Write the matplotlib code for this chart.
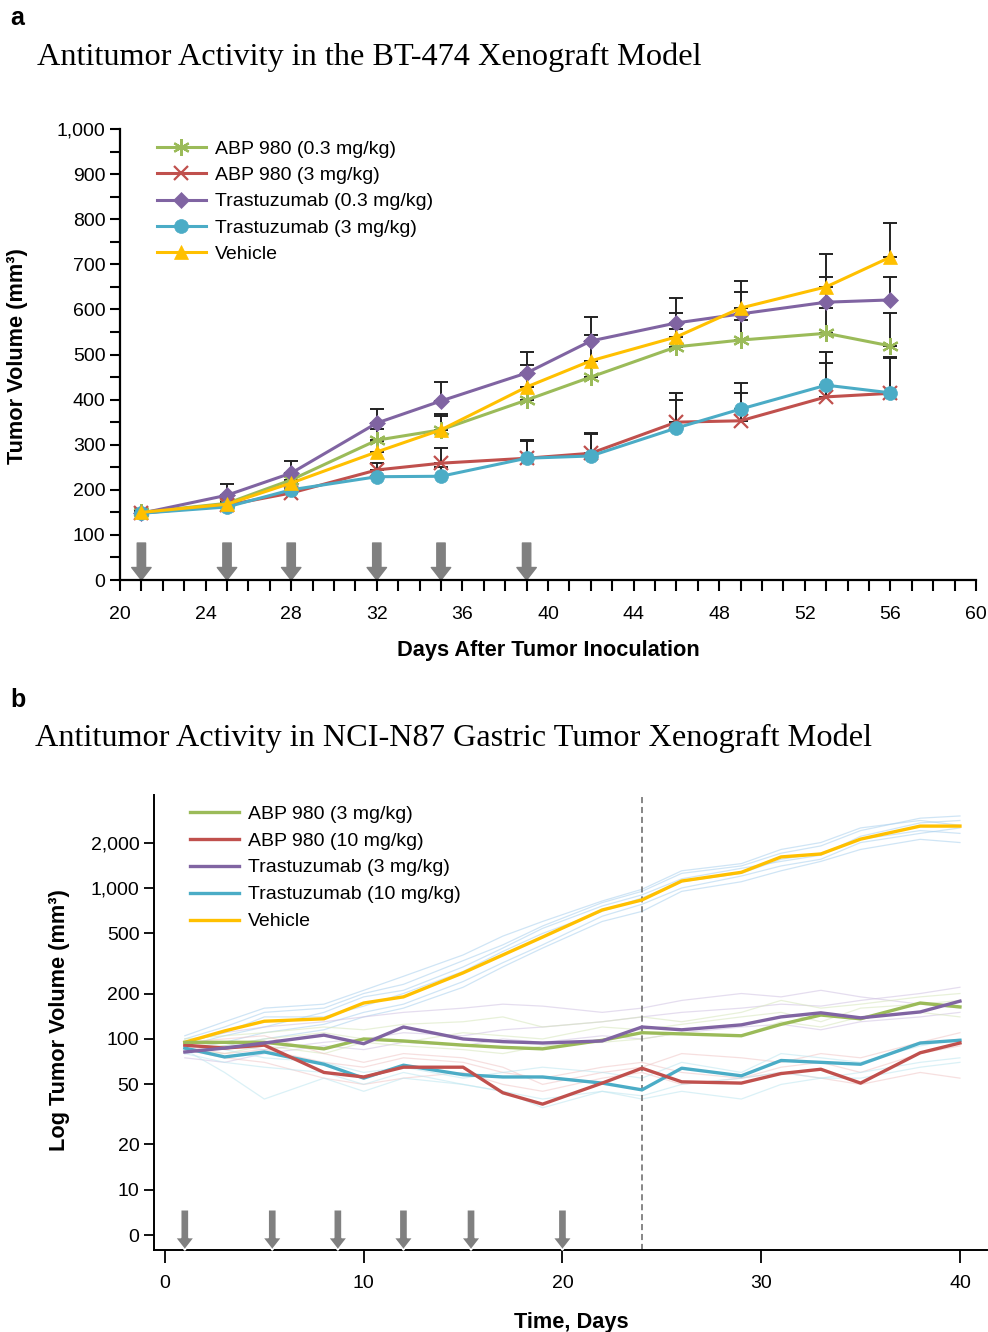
import matplotlib
matplotlib.use("Agg")
import matplotlib.pyplot as plt
from matplotlib.ticker import MultipleLocator, FuncFormatter, NullLocator
from matplotlib.patches import FancyArrowPatch

plt.rcParams['font.family'] = ['Liberation Sans', 'DejaVu Sans']

# ---------------- panel a data ----------------
days_a = [21, 25, 28, 32, 35, 39, 42, 46, 49, 53, 56]
abp03 = [150, 170, 222, 310, 333, 399, 450, 517, 532, 547, 519]
abp03_err = [5, 10, 15, 25, 35, 30, 35, 40, 45, 55, 73]
abp3 = [148, 166, 193, 244, 259, 270, 281, 350, 353, 406, 414]
abp3_err = [5, 8, 12, 16, 34, 40, 45, 49, 61, 75, 80]
tras03 = [148, 188, 237, 348, 397, 459, 530, 570, 590, 616, 621]
tras03_err = [5, 25, 27, 31, 42, 47, 53, 55, 73, 56, 51]
tras3 = [148, 162, 200, 229, 230, 270, 275, 337, 379, 432, 415]
tras3_err = [5, 8, 12, 15, 20, 38, 48, 77, 58, 73, 77]
vehicle_a = [150, 168, 215, 284, 333, 428, 486, 539, 603, 650, 716]
vehicle_a_err = [5, 10, 15, 25, 30, 49, 57, 53, 36, 73, 76]
dose_days_a = [21, 25, 28, 32, 35, 39]

# ---------------- panel b data ----------------
days_b = [1, 3, 5, 8, 10, 12, 15, 17, 19, 22, 24, 26, 29, 31, 33, 35, 38, 40]
abp_3 = [95, 95, 95, 86, 100, 97, 91, 88, 86, 98, 110, 108, 105, 125, 144, 136, 173, 163]
abp_10 = [91, 87, 91, 60, 56, 65, 65, 44, 37, 51, 64, 52, 51, 59, 63, 51, 81, 94]
tras_3 = [82, 87, 94, 106, 93, 120, 100, 96, 94, 97, 120, 115, 124, 140, 149, 138, 151, 178]
tras_10 = [87, 76, 82, 68, 55, 67, 58, 56, 56, 51, 46, 64, 57, 72, 70, 68, 94, 98]
vehicle_b = [95, 113, 131, 136, 173, 190, 274, 360, 473, 715, 833, 1112, 1270, 1606, 1680, 2107, 2570, 2570]
dose_days_b = [1, 5.4, 8.7, 12, 15.4, 20]

# individual animals (faint lines)
veh_ind = [
    [100, 120, 150, 160, 200, 230, 330, 420, 560, 800, 950, 1250, 1400, 1700, 1900, 2400, 2900, 3000],
    [90, 105, 120, 150, 190, 210, 300, 400, 540, 760, 900, 1150, 1350, 1500, 1650, 2200, 2700, 2800],
    [85, 95, 110, 125, 150, 170, 240, 320, 420, 650, 780, 1000, 1200, 1400, 1550, 2000, 2300, 2500],
    [105, 130, 160, 170, 210, 260, 360, 480, 600, 820, 980, 1300, 1450, 1800, 2000, 2500, 2800, 2600],
    [95, 110, 140, 140, 165, 200, 280, 380, 500, 700, 860, 1100, 1250, 1550, 1700, 2100, 2400, 2300],
    [80, 90, 100, 115, 140, 160, 220, 300, 400, 600, 700, 950, 1100, 1300, 1500, 1800, 2100, 2000],
]
tras3_ind = [
    [95, 110, 120, 130, 140, 150, 160, 170, 165, 150, 160, 180, 200, 190, 210, 190, 170, 160],
    [80, 90, 85, 95, 100, 110, 105, 115, 120, 130, 140, 150, 160, 170, 165, 180, 200, 220],
    [75, 70, 80, 90, 85, 95, 90, 100, 95, 105, 100, 110, 120, 125, 115, 130, 140, 150],
]
abp3_ind = [
    [100, 105, 110, 120, 115, 125, 130, 140, 120, 130, 140, 130, 150, 180, 160, 170, 190, 200],
    [85, 80, 90, 80, 95, 90, 85, 80, 90, 95, 100, 110, 105, 130, 120, 140, 150, 140],
    [95, 90, 100, 110, 100, 95, 110, 105, 100, 120, 115, 125, 140, 150, 130, 160, 170, 180],
]
abp10_ind = [
    [90, 80, 85, 70, 65, 75, 70, 60, 55, 65, 70, 60, 55, 65, 70, 60, 80, 90],
    [95, 100, 105, 80, 70, 80, 75, 65, 50, 60, 65, 80, 75, 70, 80, 75, 95, 110],
    [85, 75, 70, 55, 50, 55, 60, 50, 45, 55, 60, 50, 55, 60, 55, 50, 60, 55],
]
tras10_ind = [
    [85, 60, 40, 55, 45, 55, 50, 45, 40, 45, 42, 50, 55, 60, 55, 60, 70, 75],
    [90, 85, 75, 70, 60, 65, 55, 60, 65, 60, 55, 70, 60, 80, 75, 70, 90, 100],
    [80, 70, 65, 60, 50, 60, 50, 45, 35, 45, 40, 45, 40, 50, 55, 55, 65, 70],
]

yticks_b = [5, 10, 20, 50, 100, 200, 500, 1000, 2000]
ytick_labels_b = ['0', '10', '20', '50', '100', '200', '500', '1,000', '2,000']

GREEN = '#9bbb59'
RED = '#c0504d'
PURPLE = '#8064a2'
CYAN = '#4bacc6'
YELLOW = '#ffc000'
ARROW = '#808080'

TICK_FS = 14
LABEL_FS = 15.7
LEG_FS = 14
TITLE_FS = 23.2

fig = plt.figure(figsize=(9.88, 13.32), dpi=100)

# ================= panel a =================
ax = fig.add_axes([120 / 988, 1 - 580 / 1332, 856 / 988, 451 / 1332])

series_a = [
    ('ABP 980 (0.3 mg/kg)', abp03, abp03_err, GREEN, (6, 2, 0), 12),
    ('ABP 980 (3 mg/kg)', abp3, abp3_err, RED, 'x', 10),
    ('Trastuzumab (0.3 mg/kg)', tras03, tras03_err, PURPLE, 'D', 8),
    ('Trastuzumab (3 mg/kg)', tras3, tras3_err, CYAN, 'o', 10),
    ('Vehicle', vehicle_a, vehicle_a_err, YELLOW, '^', 10),
]
draw_order = [4, 0, 3, 1, 2]
handles = {}
for i in draw_order:
    lab, vals, err, col, mk, ms = series_a[i]
    ax.errorbar(days_a, vals, yerr=[[0] * len(err), err], fmt='none', ecolor='#222222',
                elinewidth=1.4, capsize=5, capthick=1.4, zorder=2)
    ln, = ax.plot(days_a, vals, color=col, lw=2.2, marker=mk, markersize=ms,
                  markeredgewidth=1.6 if mk in ('x', (6, 2, 0)) else 0.5,
                  markeredgecolor=col, zorder=3 + i * 0.1)
    handles[i] = ln

for d in dose_days_a:
    ax.add_patch(FancyArrowPatch((d, 82), (d, 0), arrowstyle='simple,head_width=1.4,head_length=0.9,tail_width=0.6',
                                 mutation_scale=10, color=ARROW, shrinkA=0, shrinkB=0, zorder=1.5))

ax.set_xlim(20, 60)
ax.set_ylim(0, 1000)
ax.xaxis.set_major_locator(MultipleLocator(4))
ax.xaxis.set_minor_locator(MultipleLocator(1))
ax.yaxis.set_major_locator(MultipleLocator(100))
ax.yaxis.set_minor_locator(MultipleLocator(50))
ax.yaxis.set_major_formatter(FuncFormatter(lambda v, p: f'{int(v):,}'))
ax.tick_params(axis='x', which='both', length=8, width=1.5, direction='out', labelsize=TICK_FS, pad=11)
ax.tick_params(axis='y', which='both', length=7, width=1.5, direction='out', labelsize=TICK_FS)
for s in ['top', 'right']:
    ax.spines[s].set_visible(False)
for s in ['left', 'bottom']:
    ax.spines[s].set_linewidth(1.6)
ax.set_xlabel('Days After Tumor Inoculation', fontsize=LABEL_FS, fontweight='bold')
ax.set_ylabel('Tumor Volume (mm³)', fontsize=LABEL_FS, fontweight='bold')
ax.xaxis.set_label_coords(0.501, -0.133)
ax.yaxis.set_label_coords(-0.1075, 0.497)

ax.legend([handles[i] for i in range(5)], [s[0] for s in series_a],
          loc='upper left', bbox_to_anchor=(157 / 988, 1 - 140 / 1332),
          bbox_transform=fig.transFigure, frameon=False, fontsize=LEG_FS,
          handlelength=2.5, handletextpad=0.5, labelspacing=0.45,
          borderpad=0, borderaxespad=0)

fig.text(10 / 988, 1 - 18 / 1332, 'a', fontsize=18, fontweight='bold', va='center')
fig.text(37 / 988, 1 - 57 / 1332, 'Antitumor Activity in the BT-474 Xenograft Model',
         fontfamily='Liberation Serif', fontsize=TITLE_FS, va='center')

# ================= panel b =================
bx = fig.add_axes([154 / 988, 1 - 1250 / 1332, 833 / 988, 455 / 1332])
bx.set_yscale('log')

faint = [(veh_ind, '#a9d0ee'), (tras3_ind, '#d0c2e2'), (abp3_ind, '#d6e6bb'),
         (abp10_ind, '#f0c6c6'), (tras10_ind, '#bde6f0')]
for group, col in faint:
    for vals in group:
        bx.plot(days_b, vals, color=col, lw=0.9, alpha=0.55, zorder=1)

series_b = [
    ('ABP 980 (3 mg/kg)', abp_3, GREEN),
    ('ABP 980 (10 mg/kg)', abp_10, RED),
    ('Trastuzumab (3 mg/kg)', tras_3, PURPLE),
    ('Trastuzumab (10 mg/kg)', tras_10, CYAN),
    ('Vehicle', vehicle_b, YELLOW),
]
hb = {}
for i in [4, 3, 1, 0, 2]:
    lab, vals, col = series_b[i]
    ln, = bx.plot(days_b, vals, color=col, lw=2.4, zorder=3)
    hb[i] = ln

bx.axvline(24, color='#666666', ls=(0, (4, 2.5)), lw=1.1, zorder=2)

bx.set_xlim(-0.55, 41.36)
bx.set_ylim(4.0, 4130)
for d in dose_days_b:
    bx.add_patch(FancyArrowPatch((d, 7.4), (d, 4.0), arrowstyle='simple,head_width=1.4,head_length=0.9,tail_width=0.6',
                                 mutation_scale=10, fc=ARROW, ec='white', lw=1.2,
                                 shrinkA=0, shrinkB=0, zorder=4, clip_on=False))

bx.set_yticks(yticks_b)
bx.set_yticklabels(ytick_labels_b)
bx.yaxis.set_minor_locator(NullLocator())
bx.set_xticks([0, 10, 20, 30, 40])
bx.tick_params(axis='x', length=9, width=1.3, direction='out', labelsize=TICK_FS, pad=9)
bx.tick_params(axis='y', length=7, width=1.3, direction='out', labelsize=TICK_FS)
for s in ['top', 'right']:
    bx.spines[s].set_visible(False)
for s in ['left', 'bottom']:
    bx.spines[s].set_linewidth(1.4)
bx.set_xlabel('Time, Days', fontsize=LABEL_FS, fontweight='bold')
bx.set_ylabel('Log Tumor Volume (mm³)', fontsize=LABEL_FS, fontweight='bold')
bx.xaxis.set_label_coords(0.501, -0.136)
bx.yaxis.set_label_coords(-0.101, 0.505)

bx.legend([hb[i] for i in range(5)], [s[0] for s in series_b],
          loc='upper left', bbox_to_anchor=(190 / 988, 1 - 805 / 1332),
          bbox_transform=fig.transFigure, frameon=False, fontsize=LEG_FS,
          handlelength=2.5, handletextpad=0.5, labelspacing=0.48,
          borderpad=0, borderaxespad=0)

fig.text(10 / 988, 1 - 700 / 1332, 'b', fontsize=18, fontweight='bold', va='center')
fig.text(35 / 988, 1 - 738 / 1332, 'Antitumor Activity in NCI-N87 Gastric Tumor Xenograft Model',
         fontfamily='Liberation Serif', fontsize=TITLE_FS, va='center')

fig.savefig('out.png', dpi=100)
